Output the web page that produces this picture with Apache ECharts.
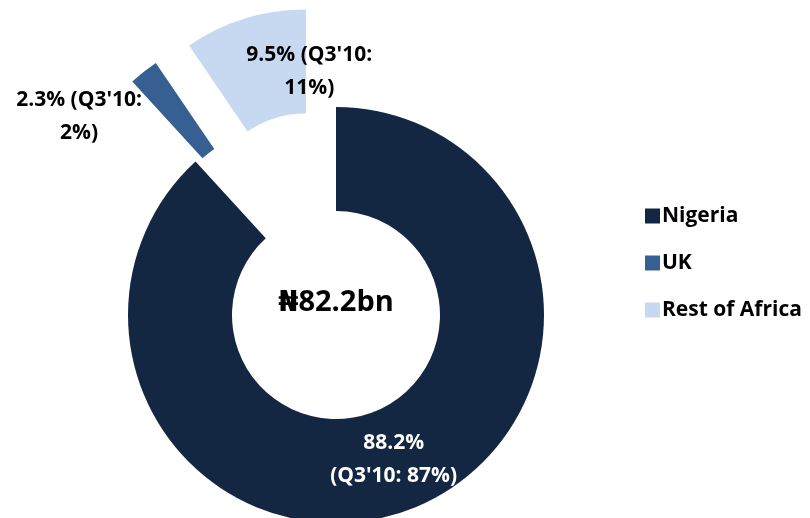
<!DOCTYPE html>
<html>
<head>
<meta charset="utf-8">
<script src="https://cdn.jsdelivr.net/npm/echarts@6/dist/echarts.min.js"></script>
<style>html,body{margin:0;padding:0;background:#fff;}#c{width:810px;height:518px;}</style>
</head>
<body>
<div id="c"></div>
<script>
const categories = ['Nigeria', 'UK', 'Rest of Africa'];
const shares = [88.2, 2.3, 9.5];
const priorShares = ['87%', '2%', '11%'];
const centerLabel = '\u20A682.2bn';

const colors = ['#132743', '#366092', '#C6D9F1'];
const labelColors = ['#ffffff', '#000000', '#000000'];
const labelShift = [[0, -4], [-95, 6], [50, 6]];
const FONT = '"Open Sans", "DejaVu Sans", sans-serif';

const chart = echarts.init(document.getElementById('c'), null, {renderer: 'canvas'});
chart.setOption({
  animation: false,
  legend: {
    orient: 'vertical',
    left: 640,
    top: 200,
    icon: 'rect',
    itemWidth: 15,
    itemHeight: 15,
    itemGap: 25,
    selectedMode: false,
    data: categories,
    textStyle: {fontFamily: FONT, fontWeight: 700, fontSize: 21, color: '#000', lineHeight: 22, padding: [0, 0, 0, -3]}
  },
  graphic: [{
    type: 'text',
    z: 100,
    x: 336,
    y: 303,
    style: {
      text: centerLabel,
      align: 'center', verticalAlign: 'middle',
      font: '700 29px ' + FONT,
      fill: '#000'
    }
  }],
  series: [{
    type: 'pie',
    center: [336, 315],
    radius: [104, 208],
    startAngle: 90,
    clockwise: true,
    selectedMode: 'multiple',
    selectedOffset: 102,
    avoidLabelOverlap: false,
    emphasis: {disabled: true},
    labelLine: {show: false},
    labelLayout: function (p) {
      const s = labelShift[p.dataIndex];
      return {dx: s[0], dy: s[1]};
    },
    data: categories.map((name, i) => ({
      name: name,
      value: shares[i],
      selected: i > 0,
      itemStyle: {color: colors[i], borderWidth: 0},
      label: {
        show: true,
        position: 'inside',
        formatter: i === 0
          ? shares[i] + '%\n(Q3\'10: ' + priorShares[i] + ')'
          : shares[i] + '% (Q3\'10:\n' + priorShares[i] + ')',
        color: labelColors[i],
        fontFamily: FONT,
        fontWeight: 700,
        fontSize: 21,
        lineHeight: 33,
        align: 'center',
        textBorderWidth: 0
      }
    }))
  }]
});
</script>
</body>
</html>
